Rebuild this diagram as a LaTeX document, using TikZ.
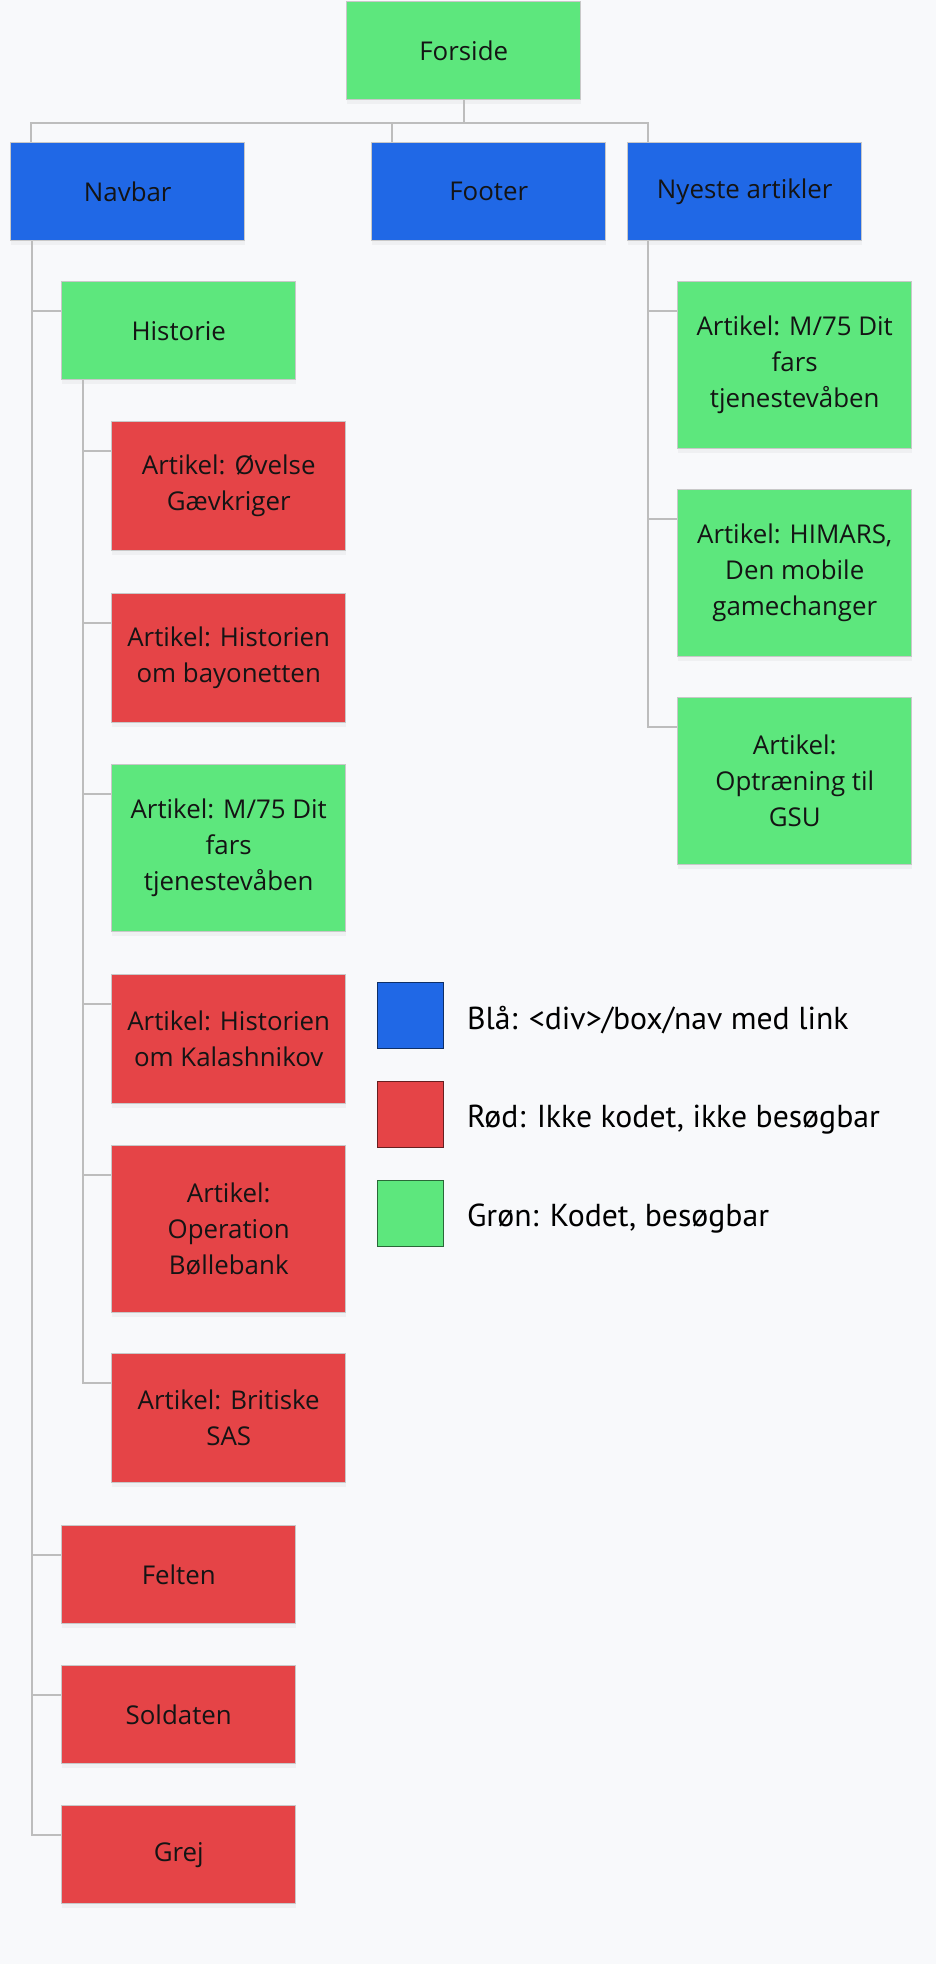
\documentclass[tikz,border=0pt]{standalone}
\usepackage{fontspec}
\setmainfont{Open Sans}
\newfontfamily\legendfont{PT Sans}
\usetikzlibrary{calc,shadows}
\definecolor{pagebg}{HTML}{F8F9FB}
\definecolor{siteblue}{HTML}{2068E6}
\definecolor{sitered}{HTML}{E54447}
\definecolor{sitegreen}{HTML}{5DE77D}
\definecolor{boxline}{HTML}{C8C8C8}
\definecolor{treeline}{HTML}{BDBDBD}
\newcommand{\pixel}[0]{0.75pt}

\begin{document}
\begin{tikzpicture}[x=\pixel, y=-\pixel]
  \tikzset{
    sitebox/.style={draw=boxline, line width=1.1pt, anchor=north west, inner sep=2pt,
      align=center, minimum width=175.5pt, text=black!92,
      font=\fontsize{19.4}{27}\selectfont,
      drop shadow={shadow xshift=0pt, shadow yshift=-3pt, opacity=0.07}},
    oneline/.style={sitebox, minimum height=73.5pt},
    twolines/.style={sitebox, minimum height=96.75pt, execute at begin node={\rule{0pt}{20.5pt}}},
    threelines/.style={sitebox, minimum height=125.25pt, execute at begin node={\rule{0pt}{20.5pt}}},
    linked/.style={fill=siteblue},
    todo/.style={fill=sitered},
    done/.style={fill=sitegreen},
    treeline/.style={draw=treeline, line width=1.5pt},
    keysquare/.style={anchor=north west, minimum size=49.5pt, inner sep=0pt, line width=0.6pt},
    keytext/.style={anchor=west, inner sep=0pt, font=\legendfont\fontsize{23.8}{28}\selectfont}
  }
  \useasboundingbox (0,0) rectangle (936,1964);
  \fill[pagebg] (0,0) rectangle (936,1964);

  % top level
  \node[oneline, done] (forside) at (346,1) {Forside};
  \node[oneline, linked] (navbar) at (10,142) {Navbar};
  \node[oneline, linked] (footer) at (371,142) {Footer};
  \node[oneline, linked] (nyeste) at (627,142) {Nyeste artikler};

  % navbar
  \node[oneline, done] (historie) at (61,281) {Historie};
  \node[twolines, todo] (gaevkriger) at (111,421) {Artikel: Øvelse\\Gævkriger};
  \node[twolines, todo] (bayonet) at (111,593) {Artikel: Historien\\om bayonetten};
  \node[threelines, done] (mfem) at (111,764) {Artikel: M/75 Dit\\fars\\tjenestevåben};
  \node[twolines, todo] (kalashnikov) at (111,974) {Artikel: Historien\\om Kalashnikov};
  \node[threelines, todo] (boellebank) at (111,1145) {Artikel:\\Operation\\Bøllebank};
  \node[twolines, todo] (sas) at (111,1353) {Artikel: Britiske\\SAS};
  \node[oneline, todo] (felten) at (61,1525) {Felten};
  \node[oneline, todo] (soldaten) at (61,1665) {Soldaten};
  \node[oneline, todo] (grej) at (61,1805) {Grej};

  % nyeste artikler
  \node[threelines, done] (nymfem) at (677,281) {Artikel: M/75 Dit\\fars\\tjenestevåben};
  \node[threelines, done] (himars) at (677,489) {Artikel: HIMARS,\\Den mobile\\gamechanger};
  \node[threelines, done] (gsu) at (677,697) {Artikel:\\Optræning til\\GSU};

  % connectors
  \coordinate (bus) at ($(forside.south)+(0,23)$);
  \draw[treeline] (forside.south) -- (bus);
  \foreach \n in {navbar,footer,nyeste}
    \draw[treeline] (bus) -| ($(\n.north west)+(21,0)$);
  \foreach \n in {historie,felten,soldaten,grej}
    \draw[treeline] ($(navbar.south west)+(22,0)$) |- ($(\n.north west)+(0,30)$);
  \foreach \n in {gaevkriger,bayonet,mfem,kalashnikov,boellebank,sas}
    \draw[treeline] ($(historie.south west)+(22,0)$) |- ($(\n.north west)+(0,30)$);
  \foreach \n in {nymfem,himars,gsu}
    \draw[treeline] ($(nyeste.south west)+(21,0)$) |- ($(\n.north west)+(0,30)$);

  % legend
  \node[keysquare, fill=siteblue, draw=siteblue!45!black] (keyblue) at (377,982) {};
  \node[keysquare, fill=sitered, draw=sitered!45!black] (keyred) at (377,1081) {};
  \node[keysquare, fill=sitegreen, draw=sitegreen!45!black] (keygreen) at (377,1180) {};
  \node[keytext] (keybluetext) at ($(keyblue.east)+(23,5)$) {Blå: <div>/box/nav med link};
  \node[keytext] (keyredtext) at ($(keyred.east)+(23,5)$) {Rød: Ikke kodet, ikke besøgbar};
  \node[keytext] (keygreentext) at ($(keygreen.east)+(23,5)$) {Grøn: Kodet, besøgbar};
\end{tikzpicture}
\end{document}
